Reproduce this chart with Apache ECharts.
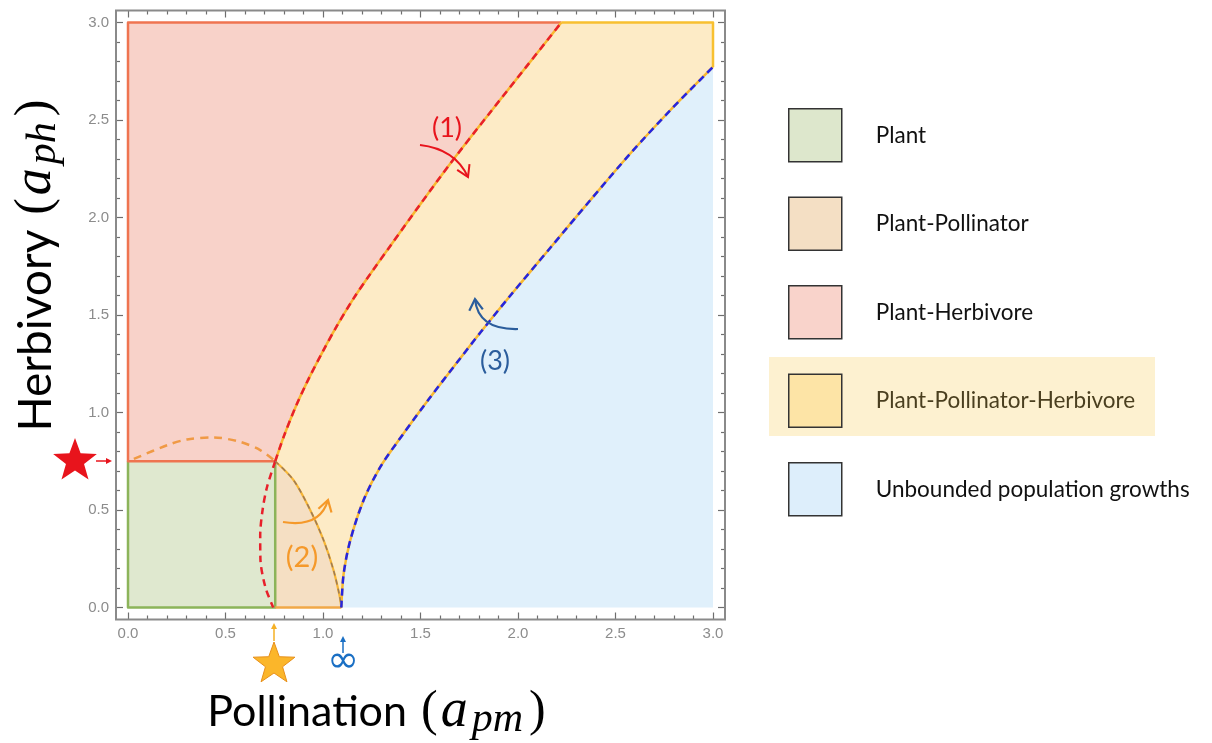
<!DOCTYPE html>
<html><head><meta charset="utf-8">
<script src="https://cdn.jsdelivr.net/npm/echarts@6/dist/echarts.min.js"></script>
<style>html,body{margin:0;padding:0;background:#fff}#c{width:1212px;height:743px}</style>
</head><body><div id="c"></div>
<script>
// ---------- DATA ----------
const xTickLabels = ['0.0','0.5','1.0','1.5','2.0','2.5','3.0'];
const yTickLabels = ['0.0','0.5','1.0','1.5','2.0','2.5','3.0'];
const regionNames = ['Plant','Plant-Pollinator','Plant-Herbivore','Plant-Pollinator-Herbivore','Unbounded population growths'];
const regionColors = ['#dfe8cf','#f5dfc3','#f8d2c9','#fdebc6','#e0f0fb'];
const legendColors = ['#dde7cc','#f4dfc4','#f9d3cb','#fde4a6','#ddeefb'];
const junction = [0.755, 0.75];
// boundary (1): Plant-Herbivore / Plant-Pollinator-Herbivore
const curve1Upper = [[0.755,0.75],[0.80,0.88],[0.86,1.03],[0.93,1.18],[1.00,1.315],[1.072,1.445],[1.157,1.585],[1.243,1.711],[1.345,1.854],[1.499,2.068],[1.653,2.277],[1.85,2.53],[2.04,2.77],[2.222,3.0]];
const curve1Lower = [[0.755,0.75],[0.713,0.618],[0.690,0.499],[0.678,0.370],[0.679,0.250],[0.704,0.106],[0.745,0.0]];
// boundary (2): Plant-Pollinator / Plant-Pollinator-Herbivore
const curve2Solid = [[0.755,0.75],[0.849,0.653],[0.935,0.499],[1.003,0.345],[1.054,0.191],[1.085,0.06],[1.094,0.0]];
const curve2Arc = [[0.03,0.762],[0.2,0.832],[0.303,0.862],[0.439,0.872],[0.576,0.849],[0.678,0.807],[0.755,0.75]];
// boundary (3): Plant-Pollinator-Herbivore / Unbounded
const curve3 = [[1.094,0.0],[1.106,0.174],[1.14,0.345],[1.208,0.55],[1.294,0.721],[1.413,0.892],[1.55,1.078],[1.687,1.256],[1.807,1.41],[1.961,1.60],[2.166,1.845],[2.371,2.089],[2.576,2.328],[2.781,2.55],[3.0,2.772]];

// ---------- REGIONS (built from the curves) ----------
const regionPlant = [[0,0],[junction[0],0],junction,[0,junction[1]]];
const regionPlantPoll = [[junction[0],0]].concat(curve2Solid);
const regionPlantHerb = [[0,junction[1]]].concat(curve1Upper,[[0,3]]);
const regionPPH = curve1Upper.concat([[3,3]], curve3.slice().reverse(), curve2Solid.slice(0,-1).reverse());
const regionUnbounded = curve3.concat([[3,0]]);

const chart = echarts.init(document.getElementById('c'), null, {renderer:'canvas', width:1212, height:743});
const GRID = {left:128, top:22.5, width:585, height:585};
const OFF = 12;

function axis(pos, show, labels) {
  return {
    type:'value', min:0, max:3, interval:0.5, position:pos, offset:OFF, show:true,
    axisLine:{show:false, onZero:false},
    axisTick:{show:true, inside:true, length:7, lineStyle:{color:'#6e6e6e', width:1.2}},
    minorTick:{show:true, splitNumber:5, length:4, lineStyle:{color:'#6e6e6e', width:1.2}},
    splitLine:{show:false}, minorSplitLine:{show:false},
    axisLabel:{show:show, color:'#8c8c8c', fontSize:15, fontFamily:'Liberation Sans', margin:7,
      formatter:(v)=>labels[Math.round(v/0.5)] || ''}
  };
}
function polySeries(idx, pts) {
  return {type:'custom', name:regionNames[idx], coordinateSystem:'cartesian2d', data:[[0,0]], silent:true, z:1, animation:false,
    itemStyle:{color:regionColors[idx]},
    renderItem:(params, api)=>({type:'polygon', shape:{points:pts.map(p=>api.coord(p))}, style:{fill:regionColors[idx], stroke:null}})};
}
function lineSeries(pts, color, width, dash, smooth, z, axisIdx) {
  return {type:'line', data:pts, symbol:'none', smooth:smooth, clip:false, silent:true, z:z, animation:false,
    xAxisIndex:axisIdx || 0, yAxisIndex:axisIdx || 0,
    lineStyle:{color:color, width:width, type:dash || 'solid', cap:'butt', join:'round'}};
}
function starPoints(cx, cy, R, r) {
  const pts=[]; for (let i=0;i<10;i++){const a=-Math.PI/2+i*Math.PI/5; const rr=i%2?r:R; pts.push([cx+rr*Math.cos(a), cy+rr*Math.sin(a)]);} return pts;
}
function headPts(tip, from, len, spread) {
  const a=Math.atan2(tip[1]-from[1], tip[0]-from[0]);
  return [[tip[0]-len*Math.cos(a-spread), tip[1]-len*Math.sin(a-spread)], tip, [tip[0]-len*Math.cos(a+spread), tip[1]-len*Math.sin(a+spread)]];
}
function curvedArrow(p0, cp, p1, color, w) {
  return [
    {type:'bezierCurve', z:100, shape:{x1:p0[0],y1:p0[1],cpx1:cp[0],cpy1:cp[1],x2:p1[0],y2:p1[1]}, style:{stroke:color, lineWidth:w, fill:null}},
    {type:'polyline', z:100, shape:{points:headPts(p1, cp, 13, 0.55)}, style:{stroke:color, lineWidth:w, fill:null, lineJoin:'miter'}}
  ];
}
function straightArrow(p0, p1, color) {
  const a=Math.atan2(p1[1]-p0[1], p1[0]-p0[0]); const L=6, hw=3;
  const base=[p1[0]-L*Math.cos(a), p1[1]-L*Math.sin(a)];
  return [
    {type:'line', z:100, shape:{x1:p0[0],y1:p0[1],x2:base[0],y2:base[1]}, style:{stroke:color, lineWidth:1.5}},
    {type:'polygon', z:100, shape:{points:[p1,[base[0]-hw*Math.sin(a), base[1]+hw*Math.cos(a)],[base[0]+hw*Math.sin(a), base[1]-hw*Math.cos(a)]]}, style:{fill:color}}
  ];
}

function titleRich(mainSize) {
  return {
    t:{fontFamily:'Lato', fontSize:mainSize, color:'#000', lineHeight:58},
    p:{fontFamily:'Liberation Serif', fontSize:50, color:'#000', lineHeight:58, padding:[0,3,0,3]},
    a:{fontFamily:'Liberation Serif', fontStyle:'italic', fontSize:54, color:'#000', lineHeight:58, padding:[0,4,0,0]},
    s:{fontFamily:'Liberation Serif', fontStyle:'italic', fontSize:42, color:'#000', lineHeight:26, verticalAlign:'bottom', padding:[0,3,0,0]}
  };
}

const graphics = [
  {type:'rect', z:0, shape:{x:769, y:357, width:386, height:79}, style:{fill:'#fdf1d0'}},
  {type:'rect', z:50, shape:{x:GRID.left-OFF, y:GRID.top-OFF, width:GRID.width+2*OFF, height:GRID.height+2*OFF}, style:{fill:null, stroke:'#8a8a8a', lineWidth:2}},
  {type:'text', z:100, x:378, y:712, style:{text:'{t|Pollination }{p|(}{a|a}{s|pm}{p|)}', rich:titleRich(43), align:'center', verticalAlign:'middle'}},
  {type:'text', z:100, x:36, y:264, rotation:Math.PI/2, style:{text:'{t|Herbivory }{p|(}{a|a}{s|ph}{p|)}', rich:titleRich(46), align:'center', verticalAlign:'middle'}},
  {type:'text', z:100, x:447, y:128, style:{text:'(1)', fontFamily:'Lato', fontSize:27, fill:'#e8141c', align:'center', verticalAlign:'middle'}},
  {type:'text', z:100, x:302, y:558, style:{text:'(2)', fontFamily:'Lato', fontSize:29, fill:'#f5992a', align:'center', verticalAlign:'middle'}},
  {type:'text', z:100, x:495, y:361, style:{text:'(3)', fontFamily:'Lato', fontSize:27, fill:'#2b5d9c', align:'center', verticalAlign:'middle'}},
  {type:'polygon', z:100, shape:{points:starPoints(75,461,23,9.5)}, style:{fill:'#e8141c'}},
  {type:'polygon', z:100, shape:{points:starPoints(274,664,22,9)}, style:{fill:'#fbb62a', stroke:'#e8901a', lineWidth:1}},
  {type:'text', z:100, x:343, y:662, style:{text:'∞', fontFamily:'DejaVu Sans', fontSize:38, fill:'#1a6fc4', align:'center', verticalAlign:'middle'}}
].concat(
  curvedArrow([420,145],[455,149],[468,177],'#e8141c',2),
  curvedArrow([283,522],[320,528],[328,500],'#f5992a',2.2),
  curvedArrow([518,329],[478,330],[475,299],'#2b5d9c',2.2),
  straightArrow([96,461],[112,461],'#e8141c'),
  straightArrow([274,641],[274,623],'#f5b025'),
  straightArrow([343,653],[343,636],'#1a6fc4')
);

const option = {
  animation:false,
  backgroundColor:'#ffffff',
  grid:GRID,
  xAxis:[axis('bottom', true, xTickLabels), axis('top', false, xTickLabels)],
  yAxis:[axis('left', true, yTickLabels), axis('right', false, yTickLabels)],
  legend:{
    orient:'vertical', left:788, top:108, padding:0, itemWidth:53, itemHeight:53, itemGap:34, selectedMode:false,
    textStyle:{fontFamily:'Lato', fontSize:22.5, color:'#111', padding:[0,0,0,29]},
    data:regionNames.map((n,i)=>({name:n, icon:'rect',
      itemStyle:{color:legendColors[i], borderColor:'#333', borderWidth:1.5},
      textStyle: i===3 ? {color:'#4a3f1f'} : undefined}))
  },
  graphic:{elements:graphics},
  series:[
    polySeries(4, regionUnbounded),
    polySeries(3, regionPPH),
    polySeries(2, regionPlantHerb),
    polySeries(1, regionPlantPoll),
    polySeries(0, regionPlant),
    // region borders
    lineSeries([[0,junction[1]],[0,0],[junction[0],0],junction], '#8cb45a', 2.5, null, false, 5),
    lineSeries([junction,[0,junction[1]],[0,3],[2.222,3]], '#ef7450', 2.5, null, false, 5, 1),
    lineSeries([[junction[0],0],[1.094,0]], '#f0a848', 2.5, null, false, 5),
    lineSeries([[2.222,3],[3,3],[3,2.772]], '#f8c030', 2.5, null, false, 5, 1),
    // boundary (1)
    lineSeries(curve1Upper, '#f8b830', 2.5, null, 0.3, 6),
    lineSeries(curve1Upper, '#e8202b', 2.5, [7,5], 0.3, 7),
    lineSeries(curve1Lower, '#e8202b', 2.5, [7,5], 0.3, 7),
    // boundary (2)
    lineSeries(curve2Solid, '#f6b535', 2.2, null, 0.3, 6),
    lineSeries(curve2Solid, '#9c7a58', 1.5, [5,4], 0.3, 7),
    lineSeries(curve2Arc, '#f09a45', 2.5, [8,6], 0.3, 7),
    // boundary (3)
    lineSeries(curve3, '#f8b830', 2.5, null, 0.3, 6),
    lineSeries(curve3, '#2525e0', 2.5, [7,5], 0.3, 7)
  ]
};
chart.setOption(option);
</script></body></html>
